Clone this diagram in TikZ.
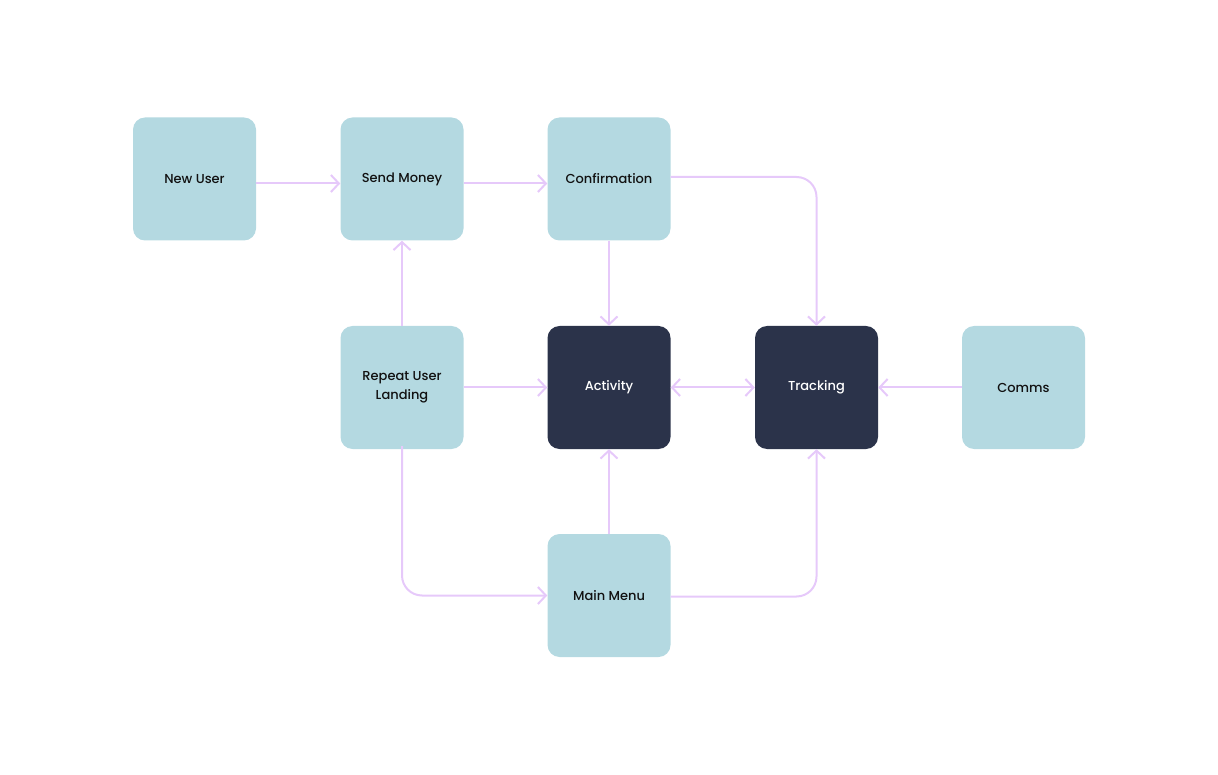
\documentclass[tikz,border=0pt]{standalone}
\usepackage{fontspec}
\setmainfont{Poppins}[UprightFont=* Medium]
\usetikzlibrary{arrows.meta}
\definecolor{lightbox}{HTML}{B4D9E1}
\definecolor{darkbox}{HTML}{2B334A}
\definecolor{linkc}{HTML}{E6C9FA}
\definecolor{txt}{HTML}{111111}
\tikzset{
  box/.style={rectangle, rounded corners=12pt, minimum width=123pt, minimum height=123pt,
    inner sep=0pt, font=\fontsize{13}{19.5}\selectfont, align=center},
  lightnode/.style={box, fill=lightbox, text=txt},
  darknode/.style={box, fill=darkbox, text=white},
  link/.style={draw=linkc, line width=2pt, rounded corners=20pt,
    -{Straight Barb[length=8pt,width=17pt,line width=2pt]}},
  dlink/.style={link, {Straight Barb[length=8pt,width=17pt,line width=2pt]}-{Straight Barb[length=8pt,width=17pt,line width=2pt]}}
}
\begin{document}
\begin{tikzpicture}[x=1pt,y=-1pt]
\useasboundingbox (0,0) rectangle (1218,775);
\node[lightnode] (newuser) at (194.5,179) {New User};
\node[lightnode] (send) at (402,179) {Send Money};
\node[lightnode] (conf) at (609,179) {Confirmation};
\node[lightnode] (repeat) at (402,387.5) {Repeat User\\Landing};
\node[darknode] (activity) at (609,387.5) {Activity};
\node[darknode] (tracking) at (816.5,387.5) {Tracking};
\node[lightnode] (comms) at (1023.5,387.5) {Comms};
\node[lightnode] (menu) at (609,595.5) {Main Menu};

\draw[link] ([yshift=-4.5pt]newuser.east) -- ([yshift=-4.5pt]send.west);
\draw[link] ([yshift=-4.5pt]send.east) -- ([yshift=-4.5pt]conf.west);
\draw[link] (repeat.north) -- (send.south);
\draw[link] (conf.south) -- (activity.north);
\draw[link] ([yshift=2pt]conf.east) -| (tracking.north);
\draw[link] (repeat.east) -- (activity.west);
\draw[dlink] (activity.east) -- (tracking.west);
\draw[link] (comms.west) -- (tracking.east);
\draw[link] (menu.north) -- (activity.south);
\draw[link] ([yshift=3pt]repeat.south) |- (menu.west);
\draw[link] ([yshift=-1pt]menu.east) -| (tracking.south);
\end{tikzpicture}
\end{document}
